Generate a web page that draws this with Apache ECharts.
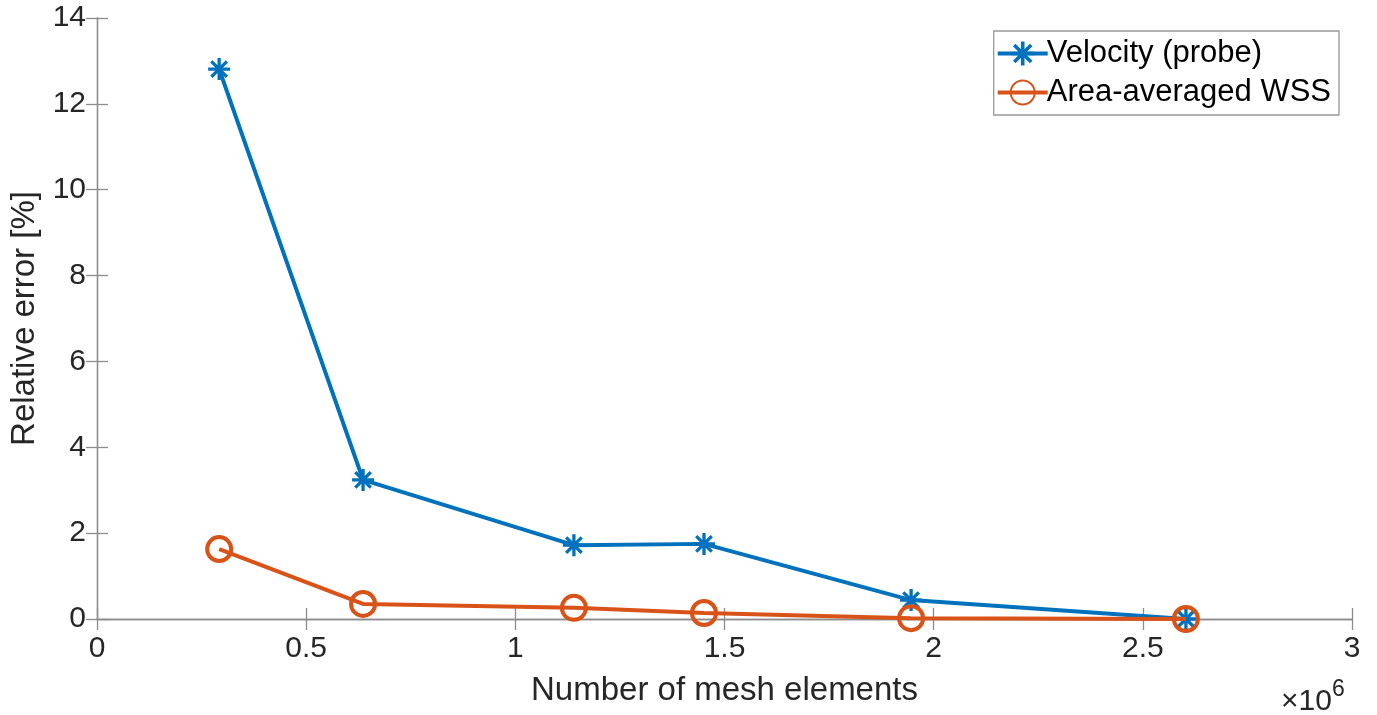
<!DOCTYPE html>
<html>
<head>
<meta charset="utf-8">
<script src="https://cdn.jsdelivr.net/npm/echarts@6/dist/echarts.min.js"></script>
<style>
  html, body { margin: 0; padding: 0; background: #fff; }
  #chart { width: 1377px; height: 715px; }
</style>
</head>
<body>
<div id="chart"></div>
<script>
// mesh size in units of 1e6 elements
const meshElements = [0.292, 0.636, 1.14, 1.451, 1.946, 2.603];
const velocityError = [12.81, 3.24, 1.72, 1.75, 0.44, 0.0];
const wssError = [1.63, 0.35, 0.26, 0.14, 0.02, 0.0];
const xTicks = [0, 0.5, 1, 1.5, 2, 2.5, 3];
const yTicks = [0, 2, 4, 6, 8, 10, 12, 14];

const blue = "#0072BD";
const orange = "#D95319";
const axisGray = "#8c8c8c";
const textColor = "#262626";
const font = "Liberation Sans, Arial, Helvetica, sans-serif";

// asterisk marker (MATLAB '*'), built from four filled bars
const asterisk =
  "path://M0 8.5L20 8.5L20 11.5L0 11.5Z" +
  "M8.5 0L11.5 0L11.5 20L8.5 20Z" +
  "M3.99 1.87L18.13 16.01L16.01 18.13L1.87 3.99Z" +
  "M18.13 3.99L3.99 18.13L1.87 16.01L16.01 1.87Z";

function pairs(xs, ys) {
  return xs.map((x, i) => [x, ys[i]]);
}

function fmtX(v) {
  return String(Math.round(v * 10) / 10);
}

const boxLine = { show: true, lineStyle: { color: axisGray, width: 1.3 } };
const tickIn = { show: true, inside: true, length: 11, lineStyle: { color: axisGray, width: 1.3 } };

let option = {
  animation: false,
  backgroundColor: "#fff",
  grid: {
    left: 97,
    right: 25,
    top: 18,
    bottom: 96,
    containLabel: false
  },
  legend: {
    right: 38,
    top: 31,
    orient: "vertical",
    backgroundColor: "#fff",
    borderColor: "#999",
    borderWidth: 1.3,
    padding: [7, 8, 7, 2],
    itemGap: 8,
    itemWidth: 50,
    itemHeight: 30,
    lineStyle: { width: 4 },
    textStyle: {
      fontFamily: font,
      fontSize: 31,
      color: "#000",
      padding: [0, 0, 0, -6]
    },
    data: ["Velocity (probe)", "Area-averaged WSS"]
  },
  xAxis: [
    {
      type: "value",
      min: 0,
      max: 3,
      interval: 0.5,
      name: "Number of mesh elements",
      nameLocation: "middle",
      nameGap: 55,
      nameTextStyle: { fontFamily: font, fontSize: 33, color: textColor },
      axisLine: boxLine,
      axisTick: tickIn,
      splitLine: { show: false },
      axisLabel: {
        margin: 15,
        fontFamily: font,
        fontSize: 30,
        color: textColor,
        formatter: fmtX
      }
    },
    {
      type: "value",
      position: "top",
      min: 0,
      max: 3,
      interval: 0.5,
      axisLine: boxLine,
      axisTick: tickIn,
      axisLabel: { show: false },
      splitLine: { show: false }
    }
  ],
  yAxis: [
    {
      type: "value",
      min: 0,
      max: 14,
      interval: 2,
      name: "Relative error [%]",
      nameLocation: "middle",
      nameGap: 50,
      nameTextStyle: { fontFamily: font, fontSize: 33, color: textColor },
      axisLine: boxLine,
      axisTick: tickIn,
      splitLine: { show: false },
      axisLabel: {
        margin: 11,
        fontFamily: font,
        fontSize: 30,
        color: textColor
      }
    },
    {
      type: "value",
      position: "right",
      min: 0,
      max: 14,
      interval: 2,
      axisLine: boxLine,
      axisTick: tickIn,
      axisLabel: { show: false },
      splitLine: { show: false }
    }
  ],
  graphic: [
    {
      type: "text",
      left: 1281,
      top: 678,
      style: {
        text: "{a|×10}{b|6}",
        rich: {
          a: { fontFamily: font, fontSize: 30, fill: textColor, padding: [14, 0, 0, 0] },
          b: { fontFamily: font, fontSize: 23, fill: textColor, padding: [0, 0, 10, 0] }
        }
      }
    }
  ],
  series: [
    {
      name: "Velocity (probe)",
      type: "line",
      data: pairs(meshElements, velocityError),
      symbol: asterisk,
      symbolSize: 22,
      showAllSymbol: true,
      lineStyle: { color: blue, width: 4 },
      itemStyle: { color: blue, borderWidth: 0 },
      z: 2
    },
    {
      name: "Area-averaged WSS",
      type: "line",
      data: pairs(meshElements, wssError),
      symbol: "circle",
      symbolSize: 24,
      showAllSymbol: true,
      lineStyle: { color: orange, width: 4 },
      itemStyle: { color: "rgba(255,255,255,0)", borderColor: orange, borderWidth: 4 },
      z: 3
    }
  ]
};

let chart = echarts.init(document.getElementById("chart"));
chart.setOption(option);
</script>
</body>
</html>
